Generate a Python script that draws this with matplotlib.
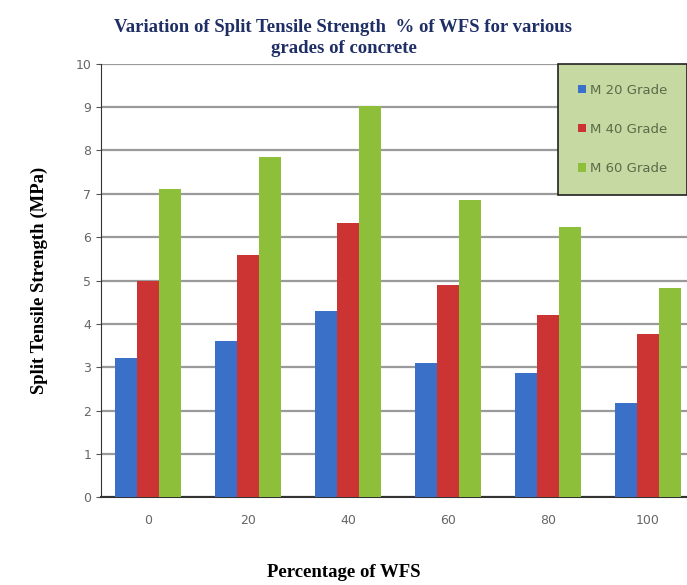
import numpy as np
import matplotlib
matplotlib.use("Agg")
import matplotlib.pyplot as plt

# data
wfs = ["0", "20", "40", "60", "80", "100"]
m20 = [3.22, 3.6, 4.3, 3.1, 2.87, 2.18]
m40 = [5.0, 5.58, 6.33, 4.9, 4.2, 3.76]
m60 = [7.1, 7.85, 9.02, 6.86, 6.24, 4.83]
labels = ["M 20 Grade", "M 40 Grade", "M 60 Grade"]
colors = ["#3b70c8", "#cc3333", "#8dbf3a"]

fig = plt.figure(figsize=(6.87, 5.85), dpi=100)
ax = fig.add_axes([0.147, 0.150, 0.853, 0.741])

x = np.arange(len(wfs))
w = 0.22
for i, (vals, lab, col) in enumerate(zip([m20, m40, m60], labels, colors)):
    ax.bar(x + (i - 1) * w, vals, w, color=col, label=lab, zorder=3)

ax.set_ylim(0, 10)
ax.set_yticks(range(0, 11))
ax.set_xlim(-0.47, 5.39)
ax.set_xticks(x)
ax.set_xticklabels(wfs)
ax.grid(axis="y", color="#9a9a9a", linewidth=1.6, zorder=0)
ax.tick_params(axis="both", colors="#555555", labelsize=9, labelcolor="#666666")
ax.tick_params(axis="x", length=0, pad=12)
for s in ["top", "right"]:
    ax.spines[s].set_visible(False)
ax.spines["left"].set_color("#333333")
ax.spines["bottom"].set_color("#333333")
ax.spines["bottom"].set_linewidth(1.5)

ax.set_ylabel("Split Tensile Strength (MPa)", family="Liberation Serif",
              fontweight="bold", fontsize=13.5, labelpad=20)
fig.text(0.5, 0.022, "Percentage of WFS", ha="center", va="center",
         family="Liberation Serif", fontweight="bold", fontsize=13.5)
fig.text(0.5, 0.935, "Variation of Split Tensile Strength  % of WFS for various\ngrades of concrete",
         ha="center", va="center", family="Liberation Serif", fontweight="bold",
         fontsize=13.5, color="#1f2f66", linespacing=1.3)

leg = ax.legend(loc="upper right", bbox_to_anchor=(1.0, 1.0), borderaxespad=0,
                frameon=True, fancybox=False, fontsize=9.5, handlelength=0.6,
                handleheight=0.6, labelspacing=2.0, borderpad=1.5, handletextpad=0.3)
leg.get_frame().set_facecolor("#c6d9a2")
leg.get_frame().set_edgecolor("#222222")
leg.get_frame().set_alpha(1)
leg.get_frame().set_linewidth(1.2)
for t in leg.get_texts():
    t.set_color("#5a6b48")

plt.savefig("out.png", dpi=100)
